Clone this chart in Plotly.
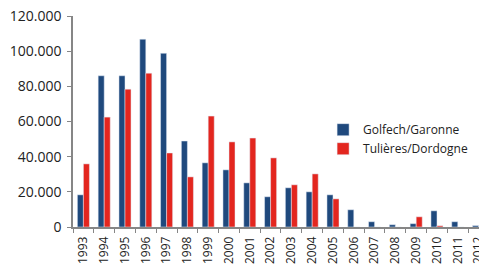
import plotly.graph_objects as go

years = [str(y) for y in range(1993, 2013)]
golfech = [18300, 86000, 86000, 106800, 98800, 48900, 36500, 32500, 25100, 17200,
           22300, 20000, 18300, 9800, 3000, 1300, 1900, 9200, 3000, 800]
tulieres = [35900, 62500, 78400, 87500, 42100, 28500, 63100, 48400, 50600, 39300,
            24000, 30200, 16000, 0, 0, 0, 5800, 700, 0, 0]
y_ticks = [0, 20000, 40000, 60000, 80000, 100000, 120000]
y_labels = ["0", "20.000", "40.000", "60.000", "80.000", "100.000", "120.000"]

fig = go.Figure()
fig.add_trace(go.Bar(x=years, y=golfech, name="Golfech/Garonne", marker_color="#1F497D"))
fig.add_trace(go.Bar(x=years, y=tulieres, name="Tulières/Dordogne", marker_color="#E3261F"))

font_fam = "Open Sans, Liberation Sans, sans-serif"
fig.update_layout(
    width=479, height=266,
    margin=dict(l=73, r=0, t=16, b=39, autoexpand=False),
    paper_bgcolor="white", plot_bgcolor="white",
    barmode="group", bargap=0.42, bargroupgap=0,
    font=dict(family=font_fam, size=12, color="#333333"),
    showlegend=True,
    legend=dict(x=0.616, y=0.53, xanchor="left", yanchor="top",
                bgcolor="rgba(0,0,0,0)", font=dict(size=12, color="#222222"),
                tracegroupgap=0, itemwidth=30),
    xaxis=dict(type="category", range=[-0.5, 19.02], tickson="boundaries",
               automargin=False,
               ticks="outside", ticklen=4, tickcolor="#868686",
               showline=True, linecolor="#868686", linewidth=1.5,
               tickangle=-90, tickfont=dict(size=12, color="#222222"),
               ticklabelstandoff=3,
               showgrid=False, zeroline=False),
    yaxis=dict(range=[0, 120000], tickvals=y_ticks, ticktext=y_labels,
               automargin=False,
               ticks="outside", ticklen=4, tickcolor="#868686",
               showline=True, linecolor="#868686", linewidth=1.5,
               tickfont=dict(size=14, color="#222222"),
               ticklabelstandoff=3,
               showgrid=False, zeroline=False),
)

fig.write_html("out.html", config={"displayModeBar": False},
               post_script="document.body.style.margin='0';")
